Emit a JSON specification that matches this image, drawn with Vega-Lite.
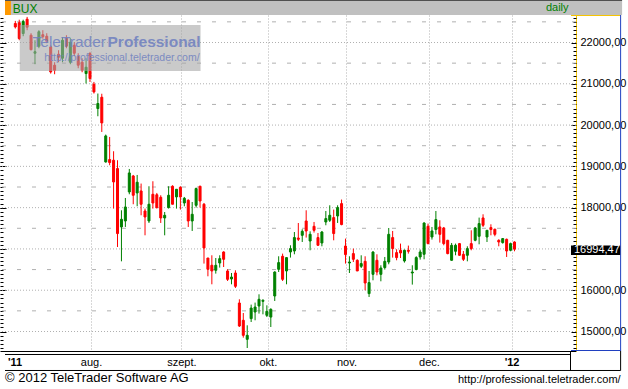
{
  "$schema": "https://vega.github.io/schema/vega-lite/v6.json",
  "width": 576,
  "height": 336,
  "padding": {"left": 0, "top": 15, "right": 52, "bottom": 38},
  "autosize": {"type": "none"},
  "background": "white",
  "config": {"view": {"stroke": null}, "font": "Liberation Sans"},
  "datasets": {
    "candles": [
      {"day":2,"open":22460,"high":22523,"low":22339,"close":22377},
      {"day":3,"open":22479,"high":22552,"low":22055,"close":22096},
      {"day":4,"open":22218,"high":22552,"low":22152,"close":22511},
      {"day":5,"open":22564,"high":22620,"low":22298,"close":22370},
      {"day":6,"open":22176,"high":22225,"low":21813,"close":21825},
      {"day":7,"open":21740,"high":22055,"low":21474,"close":21777},
      {"day":8,"open":21910,"high":22298,"low":21861,"close":22261},
      {"day":9,"open":22189,"high":22298,"low":22092,"close":22140},
      {"day":10,"open":22152,"high":22225,"low":21983,"close":22031},
      {"day":11,"open":21893,"high":21934,"low":21248,"close":21287},
      {"day":12,"open":21450,"high":21522,"low":21231,"close":21328},
      {"day":13,"open":21716,"high":21813,"low":21522,"close":21643},
      {"day":14,"open":21619,"high":22128,"low":21522,"close":22055},
      {"day":15,"open":22104,"high":22176,"low":21861,"close":21910},
      {"day":16,"open":21522,"high":22104,"low":21474,"close":22007},
      {"day":17,"open":21934,"high":22007,"low":21668,"close":21740},
      {"day":18,"open":21668,"high":21740,"low":21377,"close":21450},
      {"day":19,"open":21522,"high":21619,"low":21280,"close":21328},
      {"day":20,"open":21248,"high":21619,"low":21006,"close":21401},
      {"day":21,"open":21733,"high":21772,"low":21045,"close":21127},
      {"day":22,"open":20989,"high":21045,"low":20764,"close":20803},
      {"day":23,"open":20400,"high":20764,"low":20214,"close":20522},
      {"day":24,"open":20674,"high":20759,"low":19833,"close":20052},
      {"day":25,"open":19106,"high":19770,"low":19092,"close":19737},
      {"day":26,"open":19165,"high":19712,"low":19027,"close":19092},
      {"day":27,"open":19148,"high":19366,"low":17977,"close":18622},
      {"day":28,"open":18947,"high":19148,"low":17047,"close":17372},
      {"day":29,"open":17532,"high":17936,"low":16700,"close":17718},
      {"day":30,"open":17677,"high":18234,"low":17532,"close":18016},
      {"day":31,"open":18380,"high":18937,"low":18324,"close":18840},
      {"day":32,"open":18767,"high":18792,"low":18082,"close":18300},
      {"day":33,"open":18356,"high":18792,"low":18033,"close":18615},
      {"day":34,"open":18404,"high":18583,"low":17815,"close":18082},
      {"day":35,"open":17919,"high":17977,"low":17330,"close":17774},
      {"day":36,"open":17677,"high":18518,"low":17629,"close":18082},
      {"day":37,"open":18324,"high":18639,"low":17977,"close":18113},
      {"day":38,"open":18312,"high":18356,"low":17977,"close":18002},
      {"day":39,"open":18251,"high":18300,"low":17629,"close":17750},
      {"day":40,"open":17750,"high":17895,"low":17330,"close":17815},
      {"day":41,"open":18002,"high":18518,"low":17977,"close":18300},
      {"day":42,"open":18518,"high":18542,"low":18082,"close":18082},
      {"day":43,"open":18259,"high":18445,"low":17977,"close":18445},
      {"day":44,"open":18493,"high":18518,"low":17953,"close":18259},
      {"day":45,"open":18113,"high":18259,"low":18033,"close":18227},
      {"day":46,"open":18178,"high":18203,"low":17532,"close":17677},
      {"day":47,"open":17677,"high":18137,"low":17435,"close":17839},
      {"day":48,"open":18057,"high":18486,"low":18002,"close":18462},
      {"day":49,"open":18518,"high":18530,"low":18002,"close":18161},
      {"day":50,"open":18082,"high":18113,"low":16645,"close":17023},
      {"day":51,"open":16780,"high":16780,"low":16337,"close":16507},
      {"day":52,"open":16604,"high":16846,"low":16143,"close":16466},
      {"day":53,"open":16483,"high":16780,"low":16402,"close":16604},
      {"day":54,"open":16659,"high":16846,"low":16548,"close":16765},
      {"day":55,"open":16926,"high":16943,"low":16562,"close":16749},
      {"day":56,"open":16466,"high":16507,"low":16223,"close":16264},
      {"day":57,"open":16272,"high":16417,"low":16143,"close":16320},
      {"day":58,"open":16417,"high":16483,"low":16054,"close":16095},
      {"day":59,"open":15690,"high":15780,"low":15109,"close":15133},
      {"day":60,"open":15271,"high":15448,"low":14851,"close":14908},
      {"day":61,"open":14811,"high":15150,"low":14600,"close":14908},
      {"day":62,"open":15312,"high":15651,"low":15230,"close":15568},
      {"day":63,"open":15472,"high":15700,"low":15271,"close":15593},
      {"day":64,"open":15618,"high":15901,"low":15433,"close":15780},
      {"day":65,"open":15731,"high":15780,"low":15416,"close":15756},
      {"day":66,"open":15392,"high":15634,"low":15350,"close":15489},
      {"day":67,"open":15350,"high":15562,"low":15109,"close":15537},
      {"day":68,"open":15860,"high":16458,"low":15739,"close":16441},
      {"day":69,"open":16507,"high":16822,"low":16441,"close":16669},
      {"day":70,"open":16822,"high":16887,"low":16223,"close":16264},
      {"day":71,"open":16466,"high":16797,"low":16143,"close":16790},
      {"day":72,"open":16926,"high":17088,"low":16790,"close":17008},
      {"day":73,"open":16950,"high":17410,"low":16870,"close":17275},
      {"day":74,"open":17265,"high":17628,"low":17192,"close":17233},
      {"day":75,"open":17330,"high":17476,"low":17168,"close":17427},
      {"day":76,"open":17677,"high":17936,"low":17275,"close":17435},
      {"day":77,"open":17192,"high":17427,"low":16967,"close":17354},
      {"day":78,"open":17548,"high":17653,"low":17396,"close":17451},
      {"day":79,"open":17275,"high":17386,"low":17081,"close":17088},
      {"day":80,"open":17144,"high":17435,"low":17064,"close":17410},
      {"day":81,"open":17653,"high":17919,"low":17573,"close":17735},
      {"day":82,"open":17694,"high":18057,"low":17653,"close":17815},
      {"day":83,"open":17759,"high":17953,"low":17209,"close":17372},
      {"day":84,"open":17798,"high":18057,"low":17629,"close":18002},
      {"day":85,"open":18098,"high":18196,"low":17573,"close":17590},
      {"day":86,"open":17071,"high":17250,"low":16645,"close":16863},
      {"day":87,"open":16659,"high":16822,"low":16417,"close":16683},
      {"day":88,"open":16887,"high":17008,"low":16683,"close":16749},
      {"day":89,"open":16725,"high":16749,"low":16466,"close":16466},
      {"day":90,"open":16579,"high":16846,"low":16538,"close":16645},
      {"day":91,"open":16700,"high":16822,"low":15998,"close":16175},
      {"day":92,"open":15918,"high":16466,"low":15836,"close":16184},
      {"day":93,"open":16385,"high":16943,"low":16240,"close":16926},
      {"day":94,"open":16725,"high":16870,"low":16361,"close":16441},
      {"day":95,"open":16385,"high":16604,"low":16216,"close":16538},
      {"day":96,"open":16548,"high":16805,"low":16500,"close":16700},
      {"day":97,"open":16683,"high":17507,"low":16628,"close":17354},
      {"day":98,"open":17275,"high":17435,"low":16790,"close":17008},
      {"day":99,"open":16911,"high":16991,"low":16725,"close":16790},
      {"day":100,"open":16967,"high":17129,"low":16780,"close":16902},
      {"day":101,"open":16708,"high":16984,"low":16669,"close":16967},
      {"day":102,"open":16967,"high":17081,"low":16887,"close":16943},
      {"day":103,"open":16417,"high":16604,"low":16136,"close":16441},
      {"day":104,"open":16500,"high":16822,"low":16483,"close":16790},
      {"day":105,"open":16805,"high":16984,"low":16741,"close":16926},
      {"day":106,"open":16870,"high":17645,"low":16749,"close":17628},
      {"day":107,"open":17548,"high":17614,"low":17112,"close":17129},
      {"day":108,"open":17289,"high":17532,"low":17226,"close":17435},
      {"day":109,"open":17469,"high":17919,"low":17354,"close":17710},
      {"day":110,"open":17532,"high":17694,"low":17153,"close":17354},
      {"day":111,"open":17508,"high":17532,"low":17088,"close":17129},
      {"day":112,"open":17209,"high":17221,"low":16870,"close":16887},
      {"day":113,"open":16725,"high":17144,"low":16717,"close":17088},
      {"day":114,"open":16943,"high":17129,"low":16846,"close":17088},
      {"day":115,"open":17129,"high":17144,"low":16838,"close":16846},
      {"day":116,"open":16870,"high":16950,"low":16708,"close":16749},
      {"day":117,"open":16846,"high":17064,"low":16700,"close":17008},
      {"day":118,"open":17129,"high":17451,"low":16967,"close":17008},
      {"day":119,"open":17209,"high":17532,"low":17185,"close":17508},
      {"day":120,"open":17306,"high":17759,"low":17112,"close":17614},
      {"day":121,"open":17750,"high":17839,"low":17532,"close":17573},
      {"day":122,"open":17289,"high":17451,"low":17168,"close":17451},
      {"day":123,"open":17517,"high":17597,"low":17330,"close":17469},
      {"day":124,"open":17476,"high":17492,"low":17306,"close":17354},
      {"day":125,"open":17209,"high":17233,"low":17064,"close":17168},
      {"day":126,"open":17153,"high":17265,"low":17129,"close":17250},
      {"day":127,"open":17233,"high":17250,"low":16805,"close":16950},
      {"day":128,"open":16967,"high":17153,"low":16943,"close":17129},
      {"day":129,"open":17168,"high":17185,"low":16943,"close":16994.47}
    ],
    "major": [{"level":15000},{"level":16000},{"level":17000},{"level":18000},{"level":19000},{"level":20000},{"level":21000},{"level":22000}],
    "half": [{"level":15500},{"level":16500},{"level":17500},{"level":18500},{"level":19500},{"level":20500},{"level":21500},{"level":22500}]
  },
  "resolve": {"axis": {"x": "independent", "y": "independent"}},
  "layer": [
    {
      "data": {"name": "major"},
      "mark": {"type": "rule", "color": "#b0b0b0", "strokeDash": [1, 2]},
      "encoding": {
        "y": {"field": "level", "type": "quantitative",
          "scale": {"domain": [14527.7, 22666.1], "nice": false, "zero": false},
          "axis": {"orient": "right", "values": [15000,16000,18000,19000,20000,21000,22000],
            "labelExpr": "replace(format(datum.value, '.2f'), '.', ',')",
            "tickSize": -5, "tickColor": "black", "labelPadding": 9, "labelFontSize": 11, "labelColor": "black",
            "labelAlign": "left", "labelBaseline": "middle", "labelFlush": false, "labelOverlap": false,
            "domainColor": "#f5c400", "grid": false, "title": null}}
      }
    },
    {
      "data": {"name": "half"},
      "mark": {"type": "rule", "color": "#b0b0b0", "strokeDash": [4, 11]},
      "encoding": {
        "y": {"field": "level", "type": "quantitative",
          "scale": {"domain": [14527.7, 22666.1], "nice": false, "zero": false},
          "axis": {"orient": "right", "values": [14600,14700,14800,14900,15000,15100,15200,15300,15400,15500,15600,15700,15800,15900,16000,16100,16200,16300,16400,16500,16600,16700,16800,16900,17000,17100,17200,17300,17400,17500,17600,17700,17800,17900,18000,18100,18200,18300,18400,18500,18600,18700,18800,18900,19000,19100,19200,19300,19400,19500,19600,19700,19800,19900,20000,20100,20200,20300,20400,20500,20600,20700,20800,20900,21000,21100,21200,21300,21400,21500,21600,21700,21800,21900,22000,22100,22200,22300,22400,22500,22600],
            "tickSize": -3, "tickColor": "black", "labels": false, "domain": false, "grid": false, "title": null}}
      }
    },
    {
      "data": {"name": "candles"},
      "mark": {"type": "rule", "strokeWidth": 1},
      "encoding": {
        "x": {"field": "day", "type": "quantitative",
          "scale": {"domain": [-0.625, 143.375], "nice": false, "zero": false},
          "axis": {"orient": "bottom", "values": [0, 21.25, 44.25, 66.25, 86.25, 107.25, 128.25],
            "labelExpr": "datum.value == 0 ? \"'11\" : datum.value == 21.25 ? 'aug.' : datum.value == 44.25 ? 'szept.' : datum.value == 66.25 ? 'okt.' : datum.value == 86.25 ? 'nov.' : datum.value == 107.25 ? 'dec.' : \"'12\"",
            "labelAlign": {"condition": {"test": "datum.value == 0", "value": "left"}, "value": "center"},
            "labelFontWeight": {"condition": {"test": "datum.value == 0 || datum.value == 128.25", "value": "bold"}, "value": "normal"},
            "labelFontSize": 11, "labelColor": "black", "labelBaseline": "alphabetic", "labelPadding": 14,
            "labelFlush": false, "labelOverlap": false, "ticks": false,
            "domainColor": "black", "grid": true, "gridColor": "#b0b0b0", "gridDash": [1, 2],
            "gridOpacity": {"condition": {"test": "datum.value == 0", "value": 0}, "value": 1},
            "title": null}},
        "y": {"field": "low", "type": "quantitative",
          "scale": {"domain": [14527.7, 22666.1], "nice": false, "zero": false},
          "axis": {"orient": "left", "values": [15000,16000,17000,18000,19000,20000,21000,22000],
            "tickSize": -6, "tickColor": "black", "labels": false, "domain": false, "grid": false, "title": null}},
        "y2": {"field": "high"},
        "color": {"condition": {"test": "datum.close >= datum.open", "value": "#008000"}, "value": "#ff0000"}
      }
    },
    {
      "data": {"name": "candles"},
      "mark": {"type": "bar", "size": 2, "strokeWidth": 1},
      "encoding": {
        "x": {"field": "day", "type": "quantitative",
          "scale": {"domain": [-0.625, 143.375], "nice": false, "zero": false}, "axis": null},
        "y": {"field": "open", "type": "quantitative",
          "scale": {"domain": [14527.7, 22666.1], "nice": false, "zero": false},
          "axis": {"orient": "left", "values": [14600,14700,14800,14900,15000,15100,15200,15300,15400,15500,15600,15700,15800,15900,16000,16100,16200,16300,16400,16500,16600,16700,16800,16900,17000,17100,17200,17300,17400,17500,17600,17700,17800,17900,18000,18100,18200,18300,18400,18500,18600,18700,18800,18900,19000,19100,19200,19300,19400,19500,19600,19700,19800,19900,20000,20100,20200,20300,20400,20500,20600,20700,20800,20900,21000,21100,21200,21300,21400,21500,21600,21700,21800,21900,22000,22100,22200,22300,22400,22500,22600],
            "tickSize": -3, "tickColor": "black", "labels": false, "domain": false, "grid": false, "title": null}},
        "y2": {"field": "close"},
        "color": {"condition": {"test": "datum.close >= datum.open", "value": "#008000"}, "value": "#ff0000"},
        "stroke": {"condition": {"test": "datum.close >= datum.open", "value": "#008000"}, "value": "#ff0000"}
      }
    },
    {
      "data": {"values": [{}]},
      "mark": {"type": "rect", "fill": "#a6a6a6", "opacity": 0.6},
      "encoding": {
        "x": {"datum": 3.125, "type": "quantitative", "scale": {"domain": [-0.625, 143.375], "nice": false, "zero": false}, "axis": null},
        "x2": {"datum": 49.125},
        "y": {"datum": 22423.9, "type": "quantitative", "scale": {"domain": [14527.7, 22666.1], "nice": false, "zero": false}, "axis": null},
        "y2": {"datum": 21309.7}
      }
    },
    {
      "data": {"values": [{}]},
      "mark": {"type": "text", "fontSize": 15.5, "color": "#6f80c0", "opacity": 0.85, "align": "left", "baseline": "alphabetic"},
      "encoding": {
        "x": {"datum": 6.375, "type": "quantitative", "scale": {"domain": [-0.625, 143.375], "nice": false, "zero": false}, "axis": null},
        "y": {"datum": 21891, "type": "quantitative", "scale": {"domain": [14527.7, 22666.1], "nice": false, "zero": false}, "axis": null},
        "text": {"value": "TeleTrader"}
      }
    },
    {
      "data": {"values": [{}]},
      "mark": {"type": "text", "fontSize": 15.5, "fontWeight": "bold", "color": "#6f80c0", "opacity": 0.85, "align": "right", "baseline": "alphabetic"},
      "encoding": {
        "x": {"datum": 49.125, "type": "quantitative", "scale": {"domain": [-0.625, 143.375], "nice": false, "zero": false}, "axis": null},
        "y": {"datum": 21891, "type": "quantitative", "scale": {"domain": [14527.7, 22666.1], "nice": false, "zero": false}, "axis": null},
        "text": {"value": "Professional"}
      }
    },
    {
      "data": {"values": [{}]},
      "mark": {"type": "text", "fontSize": 10.5, "color": "#6f80c0", "opacity": 0.85, "align": "right", "baseline": "alphabetic"},
      "encoding": {
        "x": {"datum": 48.875, "type": "quantitative", "scale": {"domain": [-0.625, 143.375], "nice": false, "zero": false}, "axis": null},
        "y": {"datum": 21552, "type": "quantitative", "scale": {"domain": [14527.7, 22666.1], "nice": false, "zero": false}, "axis": null},
        "text": {"value": "http://professional.teletrader.com/"}
      }
    },
    {
      "data": {"values": [{}]},
      "mark": {"type": "rect", "fill": "#c0c0c0"},
      "encoding": {
        "x": {"datum": -0.625, "type": "quantitative", "scale": {"domain": [-0.625, 143.375], "nice": false, "zero": false}, "axis": null},
        "x2": {"datum": 156.375},
        "y": {"datum": 23005.2, "type": "quantitative", "scale": {"domain": [14527.7, 22666.1], "nice": false, "zero": false}, "axis": null},
        "y2": {"datum": 22666.1}
      }
    },
    {
      "data": {"values": [{}]},
      "mark": {"type": "rule", "color": "#505050"},
      "encoding": {
        "x": {"datum": -0.625, "type": "quantitative", "scale": {"domain": [-0.625, 143.375], "nice": false, "zero": false}, "axis": null},
        "x2": {"datum": 156.375},
        "y": {"datum": 23017.3, "type": "quantitative", "scale": {"domain": [14527.7, 22666.1], "nice": false, "zero": false}, "axis": null}
      }
    },
    {
      "data": {"values": [{}]},
      "mark": {"type": "rect", "fill": "#ff9900"},
      "encoding": {
        "x": {"datum": -0.625, "type": "quantitative", "scale": {"domain": [-0.625, 143.375], "nice": false, "zero": false}, "axis": null},
        "x2": {"datum": 0.875},
        "y": {"datum": 23005.2, "type": "quantitative", "scale": {"domain": [14527.7, 22666.1], "nice": false, "zero": false}, "axis": null},
        "y2": {"datum": 22666.1}
      }
    },
    {
      "data": {"values": [{}]},
      "mark": {"type": "text", "fontSize": 12, "color": "#008000", "align": "left", "baseline": "alphabetic"},
      "encoding": {
        "x": {"datum": 1.375, "type": "quantitative", "scale": {"domain": [-0.625, 143.375], "nice": false, "zero": false}, "axis": null},
        "y": {"datum": 22726.6, "type": "quantitative", "scale": {"domain": [14527.7, 22666.1], "nice": false, "zero": false}, "axis": null},
        "text": {"value": "BUX"}
      }
    },
    {
      "data": {"values": [{}]},
      "mark": {"type": "text", "fontSize": 11, "color": "#008000", "align": "right", "baseline": "alphabetic"},
      "encoding": {
        "x": {"datum": 142.75, "type": "quantitative", "scale": {"domain": [-0.625, 143.375], "nice": false, "zero": false}, "axis": null},
        "y": {"datum": 22763, "type": "quantitative", "scale": {"domain": [14527.7, 22666.1], "nice": false, "zero": false}, "axis": null},
        "text": {"value": "daily"}
      }
    },
    {
      "data": {"values": [{}]},
      "mark": {"type": "rule", "color": "#f5c400"},
      "encoding": {
        "x": {"datum": 143.375, "type": "quantitative", "scale": {"domain": [-0.625, 143.375], "nice": false, "zero": false}, "axis": null},
        "x2": {"datum": 156.0},
        "y": {"datum": 22654, "type": "quantitative", "scale": {"domain": [14527.7, 22666.1], "nice": false, "zero": false}, "axis": null}
      }
    },
    {
      "data": {"values": [{}]},
      "mark": {"type": "rule", "color": "#2040c0"},
      "encoding": {
        "x": {"datum": 156.0, "type": "quantitative", "scale": {"domain": [-0.625, 143.375], "nice": false, "zero": false}, "axis": null},
        "y": {"datum": 22666.1, "type": "quantitative", "scale": {"domain": [14527.7, 22666.1], "nice": false, "zero": false}, "axis": null},
        "y2": {"datum": 14527.7}
      }
    },
    {
      "data": {"values": [{}]},
      "mark": {"type": "rule", "color": "#2040c0"},
      "encoding": {
        "x": {"datum": 143.375, "type": "quantitative", "scale": {"domain": [-0.625, 143.375], "nice": false, "zero": false}, "axis": null},
        "x2": {"datum": 156.0},
        "y": {"datum": 14539.8, "type": "quantitative", "scale": {"domain": [14527.7, 22666.1], "nice": false, "zero": false}, "axis": null}
      }
    },
    {
      "data": {"values": [{}]},
      "mark": {"type": "rule", "color": "black"},
      "encoding": {
        "x": {"datum": -0.625, "type": "quantitative", "scale": {"domain": [-0.625, 143.375], "nice": false, "zero": false}, "axis": null},
        "x2": {"datum": 143.375},
        "y": {"datum": 14443, "type": "quantitative", "scale": {"domain": [14527.7, 22666.1], "nice": false, "zero": false}, "axis": null}
      }
    },
    {
      "data": {"values": [{}]},
      "mark": {"type": "rule", "color": "black"},
      "encoding": {
        "x": {"datum": -0.625, "type": "quantitative", "scale": {"domain": [-0.625, 143.375], "nice": false, "zero": false}, "axis": null},
        "x2": {"datum": 156.0},
        "y": {"datum": 14055.4, "type": "quantitative", "scale": {"domain": [14527.7, 22666.1], "nice": false, "zero": false}, "axis": null}
      }
    },
    {
      "data": {"values": [{}]},
      "mark": {"type": "rule", "color": "black"},
      "encoding": {
        "x": {"datum": 143.25, "type": "quantitative", "scale": {"domain": [-0.625, 143.375], "nice": false, "zero": false}, "axis": null},
        "y": {"datum": 14527.7, "type": "quantitative", "scale": {"domain": [14527.7, 22666.1], "nice": false, "zero": false}, "axis": null},
        "y2": {"datum": 14055.4}
      }
    },
    {
      "data": {"values": [{}]},
      "mark": {"type": "rule", "color": "black"},
      "encoding": {
        "x": {"datum": 156.0, "type": "quantitative", "scale": {"domain": [-0.625, 143.375], "nice": false, "zero": false}, "axis": null},
        "y": {"datum": 14527.7, "type": "quantitative", "scale": {"domain": [14527.7, 22666.1], "nice": false, "zero": false}, "axis": null},
        "y2": {"datum": 14055.4}
      }
    },
    {
      "data": {"values": [{}]},
      "mark": {"type": "rect", "fill": "black"},
      "encoding": {
        "x": {"datum": 143.375, "type": "quantitative", "scale": {"domain": [-0.625, 143.375], "nice": false, "zero": false}, "axis": null},
        "x2": {"datum": 155.875},
        "y": {"datum": 17083, "type": "quantitative", "scale": {"domain": [14527.7, 22666.1], "nice": false, "zero": false}, "axis": null},
        "y2": {"datum": 16853}
      }
    },
    {
      "data": {"values": [{}]},
      "mark": {"type": "text", "fontSize": 11, "color": "white", "align": "left", "baseline": "middle", "dy": 1},
      "encoding": {
        "x": {"datum": 144.125, "type": "quantitative", "scale": {"domain": [-0.625, 143.375], "nice": false, "zero": false}, "axis": null},
        "y": {"datum": 16994.47, "type": "quantitative", "scale": {"domain": [14527.7, 22666.1], "nice": false, "zero": false}, "axis": null},
        "text": {"value": "16994,47"}
      }
    },
    {
      "data": {"values": [{}]},
      "mark": {"type": "text", "fontSize": 13, "color": "black", "align": "left", "baseline": "alphabetic"},
      "encoding": {
        "x": {"datum": -0.625, "type": "quantitative", "scale": {"domain": [-0.625, 143.375], "nice": false, "zero": false}, "axis": null},
        "y": {"datum": 13776.8, "type": "quantitative", "scale": {"domain": [14527.7, 22666.1], "nice": false, "zero": false}, "axis": null},
        "text": {"value": "© 2012 TeleTrader Software AG"}
      }
    },
    {
      "data": {"values": [{}]},
      "mark": {"type": "text", "fontSize": 11, "color": "black", "align": "right", "baseline": "alphabetic"},
      "encoding": {
        "x": {"datum": 156.0, "type": "quantitative", "scale": {"domain": [-0.625, 143.375], "nice": false, "zero": false}, "axis": null},
        "y": {"datum": 13764.7, "type": "quantitative", "scale": {"domain": [14527.7, 22666.1], "nice": false, "zero": false}, "axis": null},
        "text": {"value": "http://professional.teletrader.com/"}
      }
    }
  ]
}
